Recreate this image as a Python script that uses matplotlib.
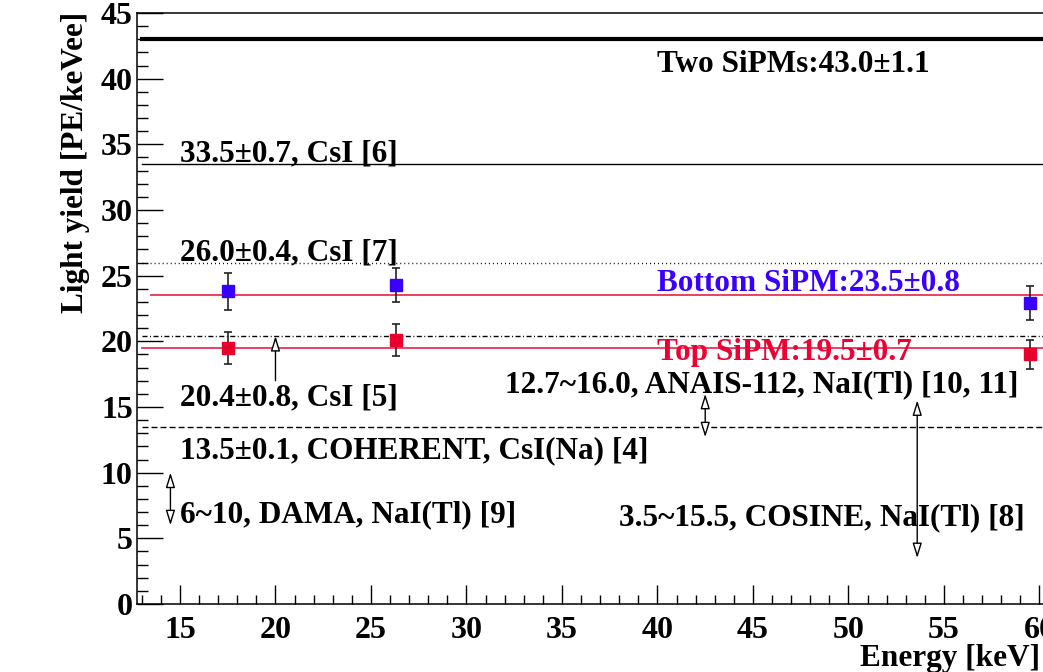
import matplotlib
matplotlib.use("Agg")
import matplotlib.pyplot as plt
from matplotlib.ticker import MultipleLocator

# pontos medidos (Am-241) para cada SiPM
energy = [17.5, 26.3, 59.5]
bottom_ly = [23.8, 24.3, 22.9]
bottom_err = [1.4, 1.3, 1.3]
top_ly = [19.5, 20.1, 19.0]
top_err = [1.2, 1.2, 1.1]

# ajustes constantes
two_sipm_fit = 43.0
bottom_fit = 23.5
top_fit = 19.5

# valores de referencia (CsI)
csi_6 = 33.5
csi_7 = 26.0
csi_5 = 20.4
coherent = 13.5

# faixas NaI(Tl): (x da seta, minimo, maximo)
dama = (14.5, 6.0, 10.0)
anais = (42.5, 12.7, 16.0)
cosine = (53.6, 3.5, 15.5)
csi_5_arrow = (20.0, 17.0, 20.4)

# textos: (x, y, texto, cor)
labels = [
    (40.0, 40.5, "Two SiPMs:43.0\u00b11.1", "black"),
    (15.0, 33.7, "33.5\u00b10.7, CsI [6]", "black"),
    (15.0, 26.2, "26.0\u00b10.4, CsI [7]", "black"),
    (40.0, 23.8, "Bottom SiPM:23.5\u00b10.8", "#3a00ff"),
    (40.0, 18.6, "Top SiPM:19.5\u00b10.7", "#ee0033"),
    (32.0, 16.1, "12.7~16.0, ANAIS-112, NaI(Tl) [10, 11]", "black"),
    (15.0, 15.15, "20.4\u00b10.8, CsI [5]", "black"),
    (15.0, 11.1, "13.5\u00b10.1, COHERENT, CsI(Na) [4]", "black"),
    (15.0, 6.2, "6~10, DAMA, NaI(Tl) [9]", "black"),
    (38.0, 6.0, "3.5~15.5, COSINE, NaI(Tl) [8]", "black"),
]

plt.rcParams['font.family'] = ['Liberation Serif', 'DejaVu Serif']
plt.rcParams['font.weight'] = 'bold'

W, H = 1043, 672
fig = plt.figure(figsize=(W / 100, H / 100), dpi=100)
ax = fig.add_axes([137 / W, 1 - 604 / H, 908 / W, 591 / H])
ax.set_xlim(12.75, 60.29)
ax.set_ylim(0, 45)

# linhas horizontais
ax.plot([13, 61], [two_sipm_fit] * 2, color='black', lw=3.0)
ax.plot([13, 61], [csi_6] * 2, color='black', lw=1.0)
ax.plot([13, 61], [csi_7] * 2, color='black', lw=1.0, linestyle=(0, (0.7, 2.2)))
ax.plot([13.5, 61], [bottom_fit] * 2, color='#ee2f50', lw=1.3)
ax.plot([13, 61], [csi_5] * 2, color='black', lw=1.0, linestyle=(0, (3.6, 1.8, 0.7, 1.8)))
ax.plot([13, 61], [top_fit] * 2, color='#ee2f50', lw=1.3)
ax.plot([13, 61], [coherent] * 2, color='black', lw=1.0, linestyle=(0, (4.3, 2.2)))

ax.errorbar(energy, bottom_ly, yerr=bottom_err, fmt='s', color='#3a00ff', ms=8,
            ecolor='#222222', elinewidth=1.2, capsize=3, capthick=1.2, zorder=5)
ax.errorbar(energy, top_ly, yerr=top_err, fmt='s', color='#e8002d', ms=8,
            ecolor='#222222', elinewidth=1.2, capsize=3, capthick=1.2, zorder=5)


def arrow(x, y0, y1, style):
    ax.annotate('', xy=(x, y1), xytext=(x, y0),
                arrowprops=dict(arrowstyle=style, mutation_scale=10,
                                fc='white', ec='black', lw=1.0,
                                shrinkA=0, shrinkB=0))


arrow(csi_5_arrow[0], csi_5_arrow[1], csi_5_arrow[2], '-|>,head_length=0.9,head_width=0.28')
for x, lo, hi in [dama, anais, cosine]:
    arrow(x, lo, hi, '<|-|>,head_length=0.9,head_width=0.28')

for x, y, txt, c in labels:
    ax.text(x, y, txt, color=c, fontsize=22.5, fontweight='bold', va='baseline', ha='left')

# eixos no estilo ROOT
ax.xaxis.set_major_locator(MultipleLocator(5))
ax.xaxis.set_minor_locator(MultipleLocator(1))
ax.yaxis.set_major_locator(MultipleLocator(5))
ax.yaxis.set_minor_locator(MultipleLocator(1))
ax.tick_params(axis='x', which='major', direction='in', length=13.4, width=1.0, labelsize=23, pad=9)
ax.tick_params(axis='x', which='minor', direction='in', length=6.2, width=1.0)
ax.tick_params(axis='y', which='major', direction='in', length=18.7, width=1.0, labelsize=23, pad=3)
ax.tick_params(axis='y', which='minor', direction='in', length=7.9, width=1.0)
ax.tick_params(top=False, right=False, which='both')
for s in ax.spines.values():
    s.set_linewidth(1.1)

fig.text(76 / W, 1 - 12 / H, "Light yield [PE/keVee]", rotation=90, ha='center', va='top',
         fontsize=22.5, fontweight='bold')
fig.text(1040 / W, 1 - 666 / H, "Energy [keV]", ha='right', va='baseline',
         fontsize=22.5, fontweight='bold')

fig.savefig("out.png", dpi=100)
